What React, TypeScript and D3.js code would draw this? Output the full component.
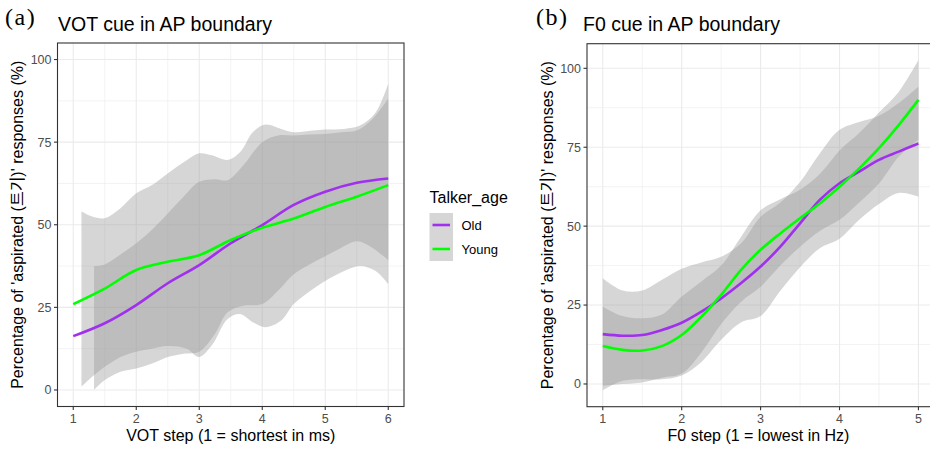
import React from "react";
import * as d3 from "d3";

// ---------- Data ----------
// Panel (a): VOT step
const votSteps = [1, 1.5, 2, 2.5, 3, 3.5, 4, 4.5, 5, 5.5, 6];
const votYoung = [26, 30.7, 36.3, 38.8, 40.8, 45.4, 49.1, 51.9, 55.4, 58.5, 62];
const votOld = [16.3, 20.2, 25.7, 32.3, 37.8, 44.4, 49.9, 56, 60, 62.7, 64];

const votYoungRibX = [1.13, 1.3, 1.5, 1.75, 2, 2.25, 2.5, 2.8, 3, 3.2, 3.45, 3.65, 3.85, 4.05, 4.3, 4.5, 4.8, 5, 5.3, 5.55, 5.8, 6];
const votYoungUpper = [54, 52.5, 52, 55, 59.5, 62, 65.5, 69.5, 71.6, 71, 69.6, 72, 78, 80.3, 79, 78, 78.5, 78.8, 79, 80, 84, 92.7];
const votYoungLower = [1, 4, 7, 10, 11.6, 12.5, 13.3, 12.5, 10, 13.5, 21.5, 23, 20.5, 19, 21, 26, 30.5, 33, 36, 37.5, 36, 32];

const votOldRibX = [1.33, 1.5, 1.75, 2, 2.25, 2.5, 2.75, 3, 3.25, 3.45, 3.7, 4, 4.25, 4.5, 4.75, 5, 5.25, 5.5, 5.75, 6];
const votOldUpper = [37.5, 38, 41, 44.4, 48.5, 53.4, 58.5, 63, 63.8, 63.5, 68, 75, 77, 77, 77.3, 77.5, 78, 78.5, 82, 88.2];
const votOldLower = [0, 3, 5.5, 6.5, 8, 10, 11, 11.6, 17, 23.5, 25.5, 26, 30, 35, 38, 40.5, 43, 45, 43, 39.3];

// Panel (b): F0 step
const f0Steps = [1, 1.25, 1.5, 1.75, 2, 2.25, 2.5, 2.75, 3, 3.25, 3.5, 3.75, 4, 4.25, 4.5, 4.75, 5];
const f0Young = [12, 10.8, 10.6, 12, 15.5, 21.3, 28.2, 36.1, 42.5, 47.7, 52.5, 57.2, 62.5, 68.3, 74.7, 82, 90];
const f0Old = [15.8, 15.3, 15.5, 17.1, 19.4, 22.9, 27.1, 31.9, 37.2, 43.5, 50.9, 58.3, 63.6, 67.3, 71, 73.6, 76.2];
const f0YoungLower = [-0.5, 0, 0.5, 2, 3.3, 10, 19, 26, 30.8, 37.5, 43.5, 48.5, 52, 57.5, 63.5, 72, 77.4];
const f0YoungUpper = [24.5, 21.5, 20.8, 22, 27.7, 32.5, 37.5, 46.5, 55, 58.5, 61.5, 66.5, 74, 79.5, 86, 92.5, 102.6];
const f0OldLower = [-2, 1, 1.5, 1.5, 2.7, 7, 14, 19.5, 21.5, 29.5, 37, 43, 46, 52, 57, 60.5, 59.3];
const f0OldUpper = [33.5, 29.6, 29.6, 33, 36.5, 38.5, 40.3, 44.5, 53, 57.5, 64, 73, 80.5, 83, 85, 89, 94.2];

const yTicks = [0, 25, 50, 75, 100];
const yMinor = [12.5, 37.5, 62.5, 87.5];
const votTicks = [1, 2, 3, 4, 5, 6];
const votMinor = [1.5, 2.5, 3.5, 4.5, 5.5];
const f0Ticks = [1, 2, 3, 4, 5];
const f0Minor = [1.5, 2.5, 3.5, 4.5];

const groups = ["Old", "Young"];
const colors: Record<string, string> = { Old: "#a030ee", Young: "#00ff00" };

const SANS = "'Liberation Sans', Arial, 'Noto Sans CJK KR', sans-serif";
const SERIF = "'Liberation Serif', 'Times New Roman', serif";
const yTitle = "Percentage of 'aspirated (트기)' responses (%)";

type PanelProps = {
  id: string;
  letter: string;
  title: string;
  xTitle: string;
  xDomain: [number, number];
  xRange: [number, number];
  yDomain: [number, number];
  yRange: [number, number];
  xTicks: number[];
  xMinor: number[];
  steps: number[];
  lines: { key: string; y: number[] }[];
  ribbons: { key: string; x: number[]; lo: number[]; hi: number[] }[];
  letterX: number;
  titleX: number;
  yTitleX: number;
};

function Panel(p: PanelProps) {
  const x = d3.scaleLinear().domain(p.xDomain).range(p.xRange);
  const y = d3.scaleLinear().domain(p.yDomain).range(p.yRange);
  const [x0, x1] = p.xRange;
  const [yb, yt] = p.yRange;
  const area = (r: { x: number[]; lo: number[]; hi: number[] }) =>
    d3
      .area<number>()
      .x((_, i) => x(r.x[i]))
      .y0((_, i) => y(r.lo[i]))
      .y1((_, i) => y(r.hi[i]))
      .curve(d3.curveCatmullRom.alpha(0.5))(r.x) || "";
  const line = (vals: number[]) =>
    d3
      .line<number>()
      .x((_, i) => x(p.steps[i]))
      .y((d) => y(d))
      .curve(d3.curveCatmullRom.alpha(0.5))(vals) || "";
  const cx = (x0 + Math.min(x1, 930)) / 2;
  const cy = (yb + yt) / 2;
  return (
    <g>
      <defs>
        <clipPath id={`clip-${p.id}`}>
          <rect x={x0} y={yt} width={x1 - x0} height={yb - yt} />
        </clipPath>
      </defs>
      <rect x={x0} y={yt} width={x1 - x0} height={yb - yt} fill="#fff" />
      <g clipPath={`url(#clip-${p.id})`}>
        {yMinor.map((t) => (
          <line key={`ym${t}`} x1={x0} x2={x1} y1={y(t)} y2={y(t)} stroke="#ebebeb" strokeWidth={0.6} />
        ))}
        {p.xMinor.map((t) => (
          <line key={`xm${t}`} x1={x(t)} x2={x(t)} y1={yt} y2={yb} stroke="#ebebeb" strokeWidth={0.6} />
        ))}
        {yTicks.map((t) => (
          <line key={`yM${t}`} x1={x0} x2={x1} y1={y(t)} y2={y(t)} stroke="#ebebeb" strokeWidth={1.1} />
        ))}
        {p.xTicks.map((t) => (
          <line key={`xM${t}`} x1={x(t)} x2={x(t)} y1={yt} y2={yb} stroke="#ebebeb" strokeWidth={1.1} />
        ))}
        {p.ribbons.map((r) => (
          <path key={`r${r.key}`} d={area(r)} fill="#999999" fillOpacity={0.4} />
        ))}
        {p.lines.map((l) => (
          <path key={`l${l.key}`} d={line(l.y)} fill="none" stroke={colors[l.key]} strokeWidth={2.6} />
        ))}
      </g>
      <rect x={x0} y={yt} width={x1 - x0} height={yb - yt} fill="none" stroke="#333" strokeWidth={1.1} />
      {yTicks.map((t) => (
        <g key={`yt${t}`}>
          <line x1={x0 - 3.5} x2={x0} y1={y(t)} y2={y(t)} stroke="#333" strokeWidth={1.1} />
          <text x={x0 - 6} y={y(t)} dy="0.35em" textAnchor="end" fontFamily={SANS} fontSize={12.5} fill="#4d4d4d">
            {t}
          </text>
        </g>
      ))}
      {p.xTicks.map((t) => (
        <g key={`xt${t}`}>
          <line x1={x(t)} x2={x(t)} y1={yb} y2={yb + 3.5} stroke="#333" strokeWidth={1.1} />
          <text x={x(t)} y={yb + 16} textAnchor="middle" fontFamily={SANS} fontSize={12.5} fill="#4d4d4d">
            {t}
          </text>
        </g>
      ))}
      <text x={cx} y={441} textAnchor="middle" fontFamily={SANS} fontSize={16} fill="#000">
        {p.xTitle}
      </text>
      <text
        transform={`translate(${p.yTitleX},${cy}) rotate(-90)`}
        textAnchor="middle"
        fontFamily={SANS}
        fontSize={16}
        fill="#000"
      >
        {yTitle}
      </text>
      <text x={p.letterX} y={25} fontFamily={SERIF} fontSize={24} letterSpacing={1.5} fill="#000">
        {p.letter}
      </text>
      <text x={p.titleX} y={31} fontFamily={SANS} fontSize={19.5} fill="#000">
        {p.title}
      </text>
    </g>
  );
}

export default function App() {
  const legendKeys = groups;
  return (
    <svg width={930} height={449} style={{ position: "absolute", left: 0, top: 0, background: "#fff" }}>
      <rect width={930} height={449} fill="#fff" />
      <Panel
        id="a"
        letter="(a)"
        title="VOT cue in AP boundary"
        xTitle="VOT step (1 = shortest in ms)"
        xDomain={[0.75, 6.25]}
        xRange={[57.5, 404]}
        yDomain={[-5, 105]}
        yRange={[406.5, 43]}
        xTicks={votTicks}
        xMinor={votMinor}
        steps={votSteps}
        lines={[
          { key: "Old", y: votOld },
          { key: "Young", y: votYoung },
        ]}
        ribbons={[
          { key: "Old", x: votOldRibX, lo: votOldLower, hi: votOldUpper },
          { key: "Young", x: votYoungRibX, lo: votYoungLower, hi: votYoungUpper },
        ]}
        letterX={5}
        titleX={58}
        yTitleX={23}
      />
      <Panel
        id="b"
        letter="(b)"
        title="F0 cue in AP boundary"
        xTitle="F0 step (1 = lowest in Hz)"
        xDomain={[0.8, 5.2]}
        xRange={[587, 934.2]}
        yDomain={[-7.2, 107.8]}
        yRange={[406.7, 43.7]}
        xTicks={f0Ticks}
        xMinor={f0Minor}
        steps={f0Steps}
        lines={[
          { key: "Old", y: f0Old },
          { key: "Young", y: f0Young },
        ]}
        ribbons={[
          { key: "Old", x: f0Steps, lo: f0OldLower, hi: f0OldUpper },
          { key: "Young", x: f0Steps, lo: f0YoungLower, hi: f0YoungUpper },
        ]}
        letterX={536}
        titleX={583}
        yTitleX={553}
      />
      {/* Legend */}
      <g>
        <text x={429.5} y={203} fontFamily={SANS} fontSize={16} fill="#000">
          Talker_age
        </text>
        {legendKeys.map((k, i) => (
          <g key={k}>
            <rect x={429.5} y={213 + i * 24} width={23.5} height={24} fill="#999999" fillOpacity={0.4} />
            <line x1={432.5} x2={450} y1={225 + i * 24} y2={225 + i * 24} stroke={colors[k]} strokeWidth={2.6} />
            <text x={461.5} y={225 + i * 24} dy="0.35em" fontFamily={SANS} fontSize={13} fill="#000">
              {k}
            </text>
          </g>
        ))}
      </g>
    </svg>
  );
}
